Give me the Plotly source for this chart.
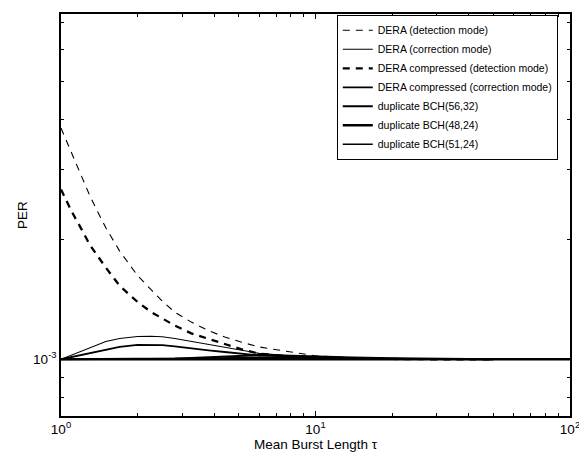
import plotly.graph_objects as go

# Mean burst length tau
tau = [1, 1.1, 1.2, 1.3, 1.4, 1.5, 1.7, 2, 2.25, 2.5, 2.8, 3.25, 3.8, 4.4, 5.1, 6, 7.5, 10, 14, 20, 30, 50]
tau_long = [1, 2, 5, 10, 20, 50, 100]

# PER values (x 1e-3)
dera_det = [3.81, 3.30, 2.90, 2.57, 2.335, 2.14, 1.87, 1.622, 1.50, 1.40, 1.313, 1.24, 1.18, 1.137,
            1.105, 1.074, 1.05, 1.02, 1.008, 1.003, 1.001, 1.0]
dera_corr = [1.0, 1.024, 1.047, 1.068, 1.089, 1.108, 1.128, 1.141, 1.143, 1.139, 1.128, 1.109, 1.09, 1.071,
             1.053, 1.035, 1.023, 1.012, 1.006, 1.003, 1.001, 1.0]
derac_det = [2.672, 2.355, 2.13, 1.935, 1.81, 1.70, 1.53, 1.393, 1.317, 1.264, 1.215, 1.162, 1.125, 1.092,
             1.060, 1.033, 1.020, 1.010, 1.004, 1.002, 1.0, 1.0]
derac_corr = [1.0, 1.013, 1.026, 1.038, 1.049, 1.059, 1.075, 1.087, 1.088, 1.085, 1.078, 1.064, 1.053, 1.043,
              1.033, 1.023, 1.017, 1.010, 1.006, 1.002, 1.001, 1.0]
bch_56_32 = [1.0, 1.0, 1.0, 1.0, 1.0, 1.0, 1.0, 1.0, 1.001, 1.002, 1.004, 1.008, 1.013, 1.018,
             1.023, 1.025, 1.022, 1.015, 1.010, 1.006, 1.003, 1.0]
bch_48_24 = [1.0, 1.0, 1.0, 1.0, 1.0, 1.0, 1.0]
bch_51_24 = [1.0, 1.0, 1.0, 1.0, 1.0, 1.0, 1.0, 1.0, 1.0, 1.001, 1.002, 1.004, 1.006, 1.009,
             1.011, 1.012, 1.011, 1.008, 1.005, 1.003, 1.001, 1.0]

x_tickvals = [1, 10, 100]
x_ticktext = ["10<sup>0</sup>", "10<sup>1</sup>", "10<sup>2</sup>"]
y_tickvals = [1e-3]
y_ticktext = ["10<sup>-3</sup>"]

fig = go.Figure()
series = [
    ("DERA (detection mode)", tau, dera_det, dict(color="black", width=1.1, dash="7px,6px")),
    ("DERA (correction mode)", tau, dera_corr, dict(color="black", width=1.1)),
    ("DERA compressed (detection mode)", tau, derac_det, dict(color="black", width=2.3, dash="7px,6px")),
    ("DERA compressed (correction mode)", tau, derac_corr, dict(color="black", width=1.8)),
    ("duplicate BCH(56,32)", tau, bch_56_32, dict(color="black", width=2)),
    ("duplicate BCH(48,24)", tau_long, bch_48_24, dict(color="black", width=2.4)),
    ("duplicate BCH(51,24)", tau, bch_51_24, dict(color="black", width=1.5)),
]
for name, xs, ys, ln in series:
    fig.add_trace(go.Scatter(x=xs, y=[v * 1e-3 for v in ys], mode="lines", name=name, line=ln))

minor_x = [2, 3, 4, 5, 6, 7, 8, 9, 20, 30, 40, 50, 60, 70, 80, 90]
minor_y = [8e-4, 9e-4, 2e-3, 3e-3, 4e-3, 5e-3, 6e-3, 7e-3]

fig.update_layout(
    width=579, height=450,
    margin=dict(l=53, r=17, t=4, b=42),
    paper_bgcolor="white", plot_bgcolor="white",
    font=dict(family="Liberation Sans, Arial", size=12, color="black"),
    showlegend=True,
    legend=dict(
        x=0.976, y=0.998, xanchor="right", yanchor="top",
        bordercolor="black", borderwidth=1, bgcolor="white",
        font=dict(size=10.5), tracegroupgap=0, itemwidth=30,
    ),
    xaxis=dict(
        type="log", range=[0, 2],
        tickvals=x_tickvals, ticktext=x_ticktext,
        ticks="inside", ticklen=5, tickcolor="black",
        showline=True, linecolor="black", linewidth=1.5, mirror="ticks",
        showgrid=False, zeroline=False,
        minor=dict(tickvals=minor_x, ticks="inside", ticklen=3, tickcolor="black", showgrid=False),
        title=dict(text="Mean Burst Length τ", font=dict(size=13.5), standoff=4),
        tickfont=dict(size=13.5),
    ),
    yaxis=dict(
        type="log", range=[-3.1425, -2.1325],
        tickvals=y_tickvals, ticktext=y_ticktext,
        ticks="inside", ticklen=5, tickcolor="black",
        showline=True, linecolor="black", linewidth=1.5, mirror="ticks",
        showgrid=False, zeroline=False,
        minor=dict(tickvals=minor_y, ticks="inside", ticklen=3, tickcolor="black", showgrid=False),
        title=dict(text="PER", font=dict(size=13.5), standoff=2),
        tickfont=dict(size=13.5),
    ),
)

fig.write_html("out.html")
